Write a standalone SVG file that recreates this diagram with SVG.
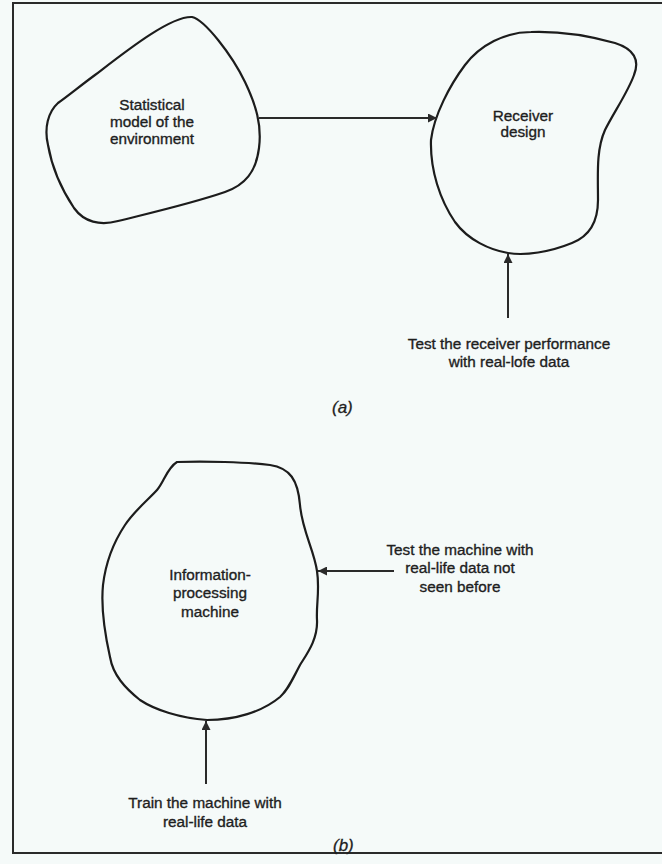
<svg xmlns="http://www.w3.org/2000/svg" width="662" height="864" viewBox="0 0 662 864">
<style>
.blob{fill:none;stroke:#1c1c1c;stroke-width:2.2;stroke-linejoin:round}
.conn{stroke:#2a2a2a;stroke-width:2;fill:none}
.t{font-family:"Liberation Sans",Arial,sans-serif;font-size:15.3px;fill:#1e1e1e;stroke:#1e1e1e;stroke-width:0.35;text-anchor:middle}
.cap{font-family:"Liberation Sans",Arial,sans-serif;font-size:17px;font-style:italic;fill:#1e1e1e;stroke:#1e1e1e;stroke-width:0.3}
</style>
<defs>
<marker id="ah" viewBox="0 0 10 10" refX="10" refY="5" markerWidth="4.5" markerHeight="4.5" orient="auto" markerUnits="strokeWidth">
<path d="M0,0 L10,5 L0,10 Z" fill="#2a2a2a"/>
</marker>
</defs>
<rect width="662" height="864" fill="#f5faf9"/>
<rect x="13" y="3" width="660" height="850" fill="none" stroke="#2a2a2a" stroke-width="2"/>

<g id="statistical-model">
<path class="blob" d="M192,17 C205,20 232,55 245,82 C256,105 262,125 259,148 C256,172 245,185 225,192 C190,204 150,213 118,221 C100,226 84,222 74,208 C62,190 52,168 48,145 C44,128 48,112 58,103 C68,96 80,86 95,75 C125,52 170,16 192,17 Z"/>
<text class="t" x="152" y="110">Statistical</text>
<text class="t" x="152" y="127">model of the</text>
<text class="t" x="152" y="144">environment</text>
</g>

<g id="receiver-design">
<path class="blob" d="M531,32 C560,31 590,36 615,43 C634,49 640,60 634,75 C628,92 614,112 605,130 C596,150 598,175 598,200 C598,222 590,236 572,243 C550,252 525,256 508,253 C490,250 468,240 455,222 C440,200 430,170 431,140 C434,115 450,85 465,65 C480,45 505,32 531,32 Z"/>
<text class="t" x="523" y="121">Receiver</text>
<text class="t" x="523" y="137">design</text>
</g>

<g id="test-receiver">
<text class="t" x="509" y="349">Test the receiver performance</text>
<text class="t" x="509" y="367">with real-lofe data</text>
</g>

<g id="info-machine">
<path class="blob" d="M177,462 C205,461 245,462 270,465 C290,468 298,480 300,505 C302,530 314,550 317,571 C320,590 316,605 317,620 C318,640 306,655 300,665 C292,680 288,690 280,697 C262,712 235,720 207,720 C180,718 155,710 140,700 C125,688 113,675 110,657 C104,630 101,605 103,585 C106,560 115,540 125,525 C135,510 150,498 157,490 C164,482 167,468 177,462 Z"/>
<text class="t" x="210" y="580">Information-</text>
<text class="t" x="210" y="598">processing</text>
<text class="t" x="210" y="617">machine</text>
</g>

<g id="test-machine">
<text class="t" x="460" y="555">Test the machine with</text>
<text class="t" x="460" y="573">real-life data not</text>
<text class="t" x="460" y="592">seen before</text>
</g>

<g id="train-machine">
<text class="t" x="205" y="808">Train the machine with</text>
<text class="t" x="205" y="827">real-life data</text>
</g>

<g id="connectors">
<line class="conn" x1="259" y1="118" x2="437" y2="118" marker-end="url(#ah)"/>
<line class="conn" x1="508" y1="318" x2="508" y2="254" marker-end="url(#ah)"/>
<line class="conn" x1="394" y1="571" x2="318" y2="571" marker-end="url(#ah)"/>
<line class="conn" x1="206" y1="784" x2="206" y2="721" marker-end="url(#ah)"/>
</g>

<text class="cap" x="332" y="413">(a)</text>
<text class="cap" x="333" y="851">(b)</text>
</svg>
